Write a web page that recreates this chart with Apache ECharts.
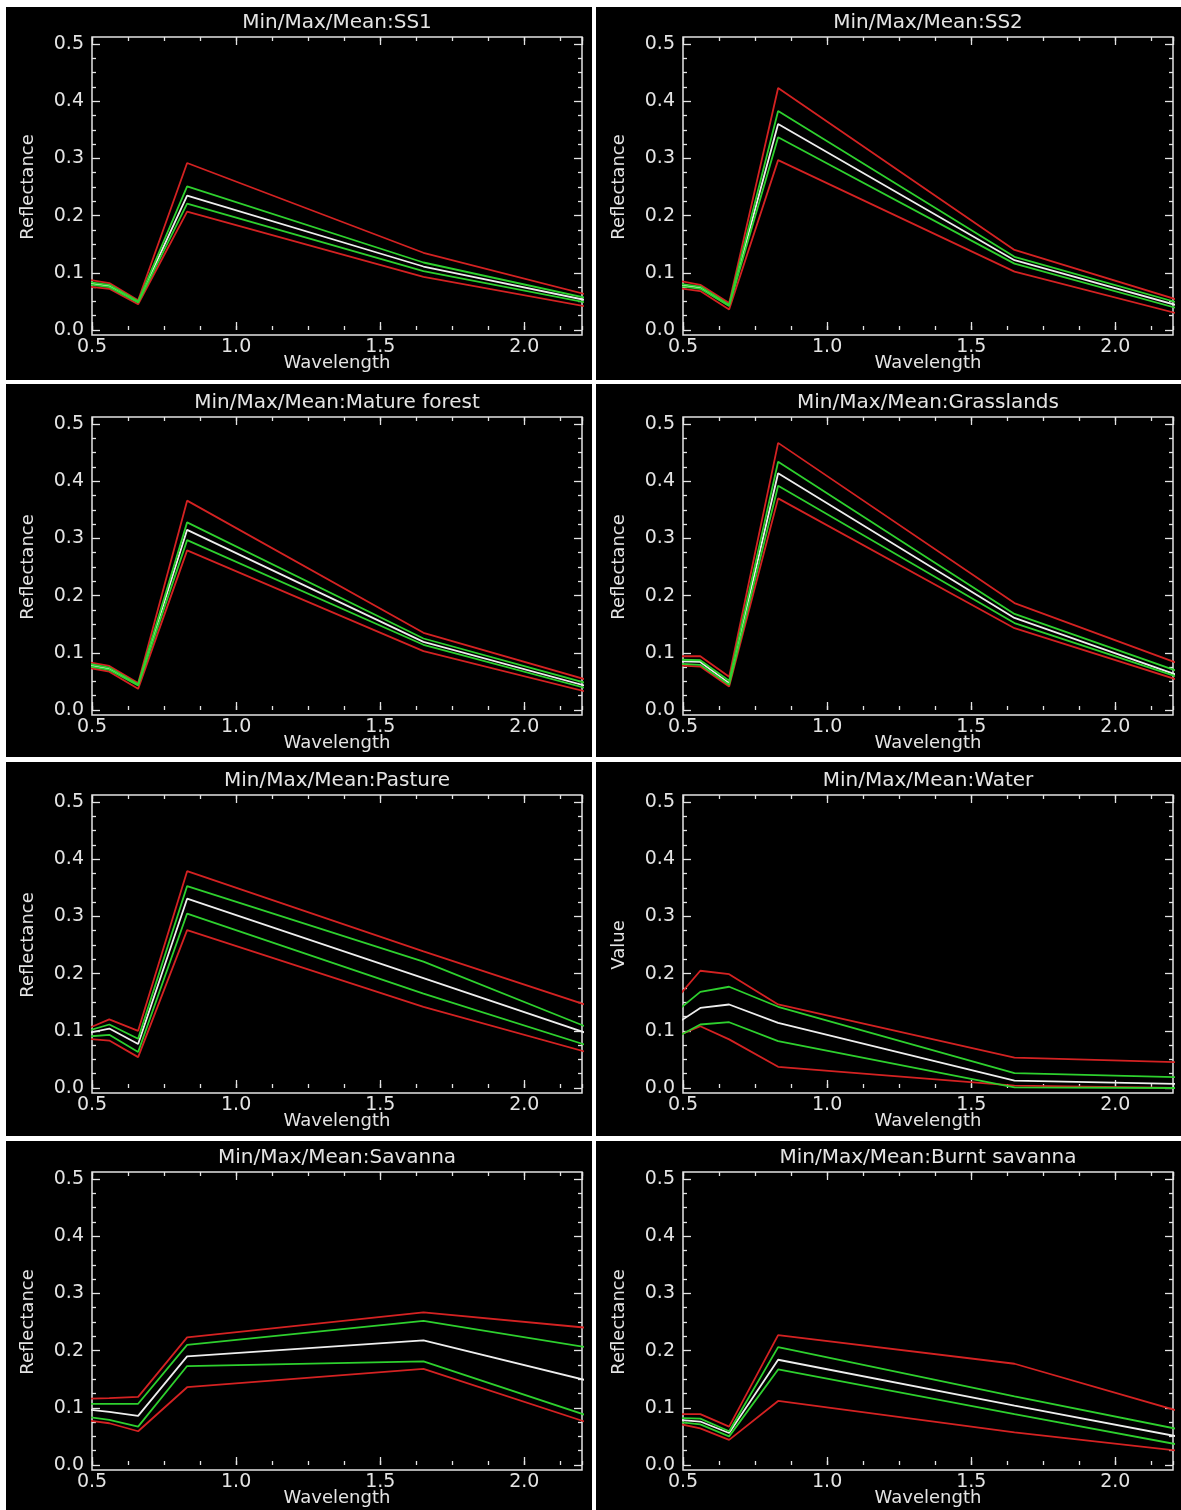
<!DOCTYPE html>
<html>
<head>
<meta charset="utf-8">
<script src="https://cdn.jsdelivr.net/npm/echarts@6/dist/echarts.min.js"></script>
<style>
  body { margin: 0; background: #fff; width: 1181px; height: 1510px; position: relative; overflow: hidden; }
  .panel { position: absolute; background: #000; }
</style>
</head>
<body>
<script>
// Landsat band centres (micrometres)
var wavelength = [0.485, 0.56, 0.66, 0.83, 1.65, 2.215];

var titles = ['Min/Max/Mean:SS1', 'Min/Max/Mean:SS2', 'Min/Max/Mean:Mature forest', 'Min/Max/Mean:Grasslands',
              'Min/Max/Mean:Pasture', 'Min/Max/Mean:Water', 'Min/Max/Mean:Savanna', 'Min/Max/Mean:Burnt savanna'];
var yNames = ['Reflectance', 'Reflectance', 'Reflectance', 'Reflectance',
              'Reflectance', 'Value', 'Reflectance', 'Reflectance'];

// rows: max, mean+std, mean, mean-std, min
var ss1 = [
  [0.088, 0.082, 0.052, 0.292, 0.135, 0.062],
  [0.084, 0.079, 0.050, 0.251, 0.118, 0.056],
  [0.082, 0.077, 0.049, 0.235, 0.111, 0.052],
  [0.080, 0.075, 0.048, 0.221, 0.103, 0.048],
  [0.076, 0.072, 0.045, 0.207, 0.093, 0.041]
];
var ss2 = [
  [0.086, 0.079, 0.047, 0.423, 0.140, 0.053],
  [0.081, 0.076, 0.044, 0.383, 0.128, 0.048],
  [0.079, 0.074, 0.043, 0.360, 0.122, 0.043],
  [0.077, 0.072, 0.042, 0.337, 0.116, 0.038],
  [0.073, 0.068, 0.036, 0.297, 0.102, 0.029]
];
var matureForest = [
  [0.084, 0.077, 0.047, 0.366, 0.135, 0.053],
  [0.081, 0.074, 0.045, 0.328, 0.125, 0.047],
  [0.079, 0.072, 0.044, 0.315, 0.119, 0.042],
  [0.077, 0.070, 0.043, 0.297, 0.114, 0.038],
  [0.074, 0.067, 0.037, 0.279, 0.103, 0.032]
];
var grasslands = [
  [0.094, 0.094, 0.058, 0.467, 0.187, 0.082],
  [0.088, 0.087, 0.051, 0.434, 0.168, 0.068],
  [0.085, 0.084, 0.047, 0.414, 0.161, 0.061],
  [0.081, 0.079, 0.044, 0.392, 0.152, 0.058],
  [0.078, 0.076, 0.041, 0.370, 0.143, 0.053]
];
var pasture = [
  [0.104, 0.120, 0.100, 0.379, 0.239, 0.145],
  [0.100, 0.111, 0.086, 0.353, 0.221, 0.107],
  [0.096, 0.104, 0.077, 0.331, 0.192, 0.096],
  [0.090, 0.093, 0.063, 0.305, 0.165, 0.075],
  [0.086, 0.083, 0.054, 0.276, 0.142, 0.063]
];
var water = [
  [0.161, 0.205, 0.199, 0.146, 0.053, 0.045],
  [0.137, 0.168, 0.177, 0.142, 0.026, 0.019],
  [0.115, 0.140, 0.146, 0.114, 0.013, 0.007],
  [0.091, 0.111, 0.115, 0.082, 0.001, 0.000],
  [0.092, 0.108, 0.085, 0.037, 0.004, 0.000]
];
var savanna = [
  [0.116, 0.117, 0.119, 0.223, 0.267, 0.240],
  [0.107, 0.107, 0.107, 0.210, 0.252, 0.206],
  [0.097, 0.093, 0.086, 0.190, 0.218, 0.148],
  [0.084, 0.079, 0.067, 0.173, 0.181, 0.087],
  [0.078, 0.073, 0.059, 0.136, 0.168, 0.075]
];
var burntSavanna = [
  [0.089, 0.089, 0.067, 0.227, 0.177, 0.095],
  [0.082, 0.081, 0.059, 0.206, 0.120, 0.063],
  [0.079, 0.076, 0.056, 0.184, 0.104, 0.050],
  [0.075, 0.071, 0.050, 0.167, 0.089, 0.036],
  [0.072, 0.064, 0.044, 0.112, 0.057, 0.025]
];
var classes = [ss1, ss2, matureForest, grasslands, pasture, water, savanna, burntSavanna];

var xTicks = [0.5, 1.0, 1.5, 2.0];
var yTicks = [0.0, 0.1, 0.2, 0.3, 0.4, 0.5];

// layout of the 4x2 panels
var rowTop = [7, 384, 762, 1141];
var rowBottom = [380, 757, 1136, 1510];
var frameTop = [37, 417, 795, 1172];
var colLeft = [6, 596], colWidth = [586, 585], frameLeft = [86, 87];
var FRAME_W = 490, FRAME_H = 298;

var FG = '#e4e4e4', FONT = 'DejaVu Sans';
var RED = '#d42222', GREEN = '#2ed02e', WHITE = '#eeeeee';

function xAxisDef(pos, offset, interval, len, withLabel) {
  return {
    type: 'value', position: pos, offset: offset, min: 0.5, max: 2.2, interval: interval,
    axisLine: { show: false }, splitLine: { show: false },
    axisTick: { show: true, inside: true, length: len, lineStyle: { color: FG, width: 1.3 } },
    axisLabel: withLabel ? {
      show: true, color: FG, fontSize: 19, fontFamily: FONT, margin: 3, showMaxLabel: false,
      formatter: function (v) { return xTicks.indexOf(+v.toFixed(3)) >= 0 ? v.toFixed(1) : ''; }
    } : { show: false },
    name: withLabel ? 'Wavelength' : '', nameLocation: 'middle', nameGap: 19, nameMoveOverlap: false,
    nameTextStyle: { color: FG, fontSize: 18, fontFamily: FONT }
  };
}
function yAxisDef(pos, withLabel, name) {
  return {
    type: 'value', position: pos, min: 0, max: 0.5, interval: 0.1,
    axisLine: { show: false }, splitLine: { show: false },
    axisTick: { show: true, inside: true, length: 8, lineStyle: { color: FG, width: 1.3 } },
    minorTick: { show: true, splitNumber: 4, length: 4, lineStyle: { color: FG, width: 1.3 } },
    axisLabel: withLabel ? {
      show: true, color: FG, fontSize: 19, fontFamily: FONT, margin: 8,
      formatter: function (v) { return v.toFixed(1); }
    } : { show: false },
    name: withLabel ? name : '', nameLocation: 'middle', nameGap: 55, nameMoveOverlap: false,
    nameTextStyle: { color: FG, fontSize: 18, fontFamily: FONT }
  };
}

function pts(vals) {
  return wavelength.map(function (w, i) { return [w, vals[i]]; });
}
function line(vals, color) {
  return { type: 'line', data: pts(vals), symbol: 'none', silent: true, clip: true,
           lineStyle: { color: color, width: 1.8 } };
}

classes.forEach(function (rows, k) {
  var r = Math.floor(k / 2), c = k % 2;
  var div = document.createElement('div');
  div.className = 'panel';
  div.style.left = colLeft[c] + 'px';
  div.style.top = rowTop[r] + 'px';
  div.style.width = colWidth[c] + 'px';
  div.style.height = (rowBottom[r] - rowTop[r]) + 'px';
  document.body.appendChild(div);

  var ft = frameTop[r] - rowTop[r];
  var fl = frameLeft[c];
  var chart = echarts.init(div);
  chart.setOption({
    animation: false,
    backgroundColor: '#000',
    grid: { left: fl, top: ft + 7, width: FRAME_W, height: FRAME_H - 12,
            containLabel: false, outerBoundsMode: 'none' },
    xAxis: [
      xAxisDef('bottom', 5, 0.5, 8, true),
      xAxisDef('bottom', 5, 0.125, 4, false),
      xAxisDef('top', 7, 0.5, 8, false),
      xAxisDef('top', 7, 0.125, 4, false)
    ],
    yAxis: [yAxisDef('left', true, yNames[k]), yAxisDef('right', false, '')],
    graphic: [
      { type: 'rect', silent: true, shape: { x: fl, y: ft, width: FRAME_W, height: FRAME_H },
        style: { fill: null, stroke: FG, lineWidth: 1.5 } },
      { type: 'text', silent: true, x: fl + FRAME_W / 2, y: ft - 14,
        style: { text: titles[k], fill: FG, font: '20px "DejaVu Sans"', align: 'center', verticalAlign: 'middle' } }
    ],
    series: [
      line(rows[2], WHITE),
      line(rows[0], RED),
      line(rows[4], RED),
      line(rows[1], GREEN),
      line(rows[3], GREEN)
    ]
  });
});
</script>
</body>
</html>
